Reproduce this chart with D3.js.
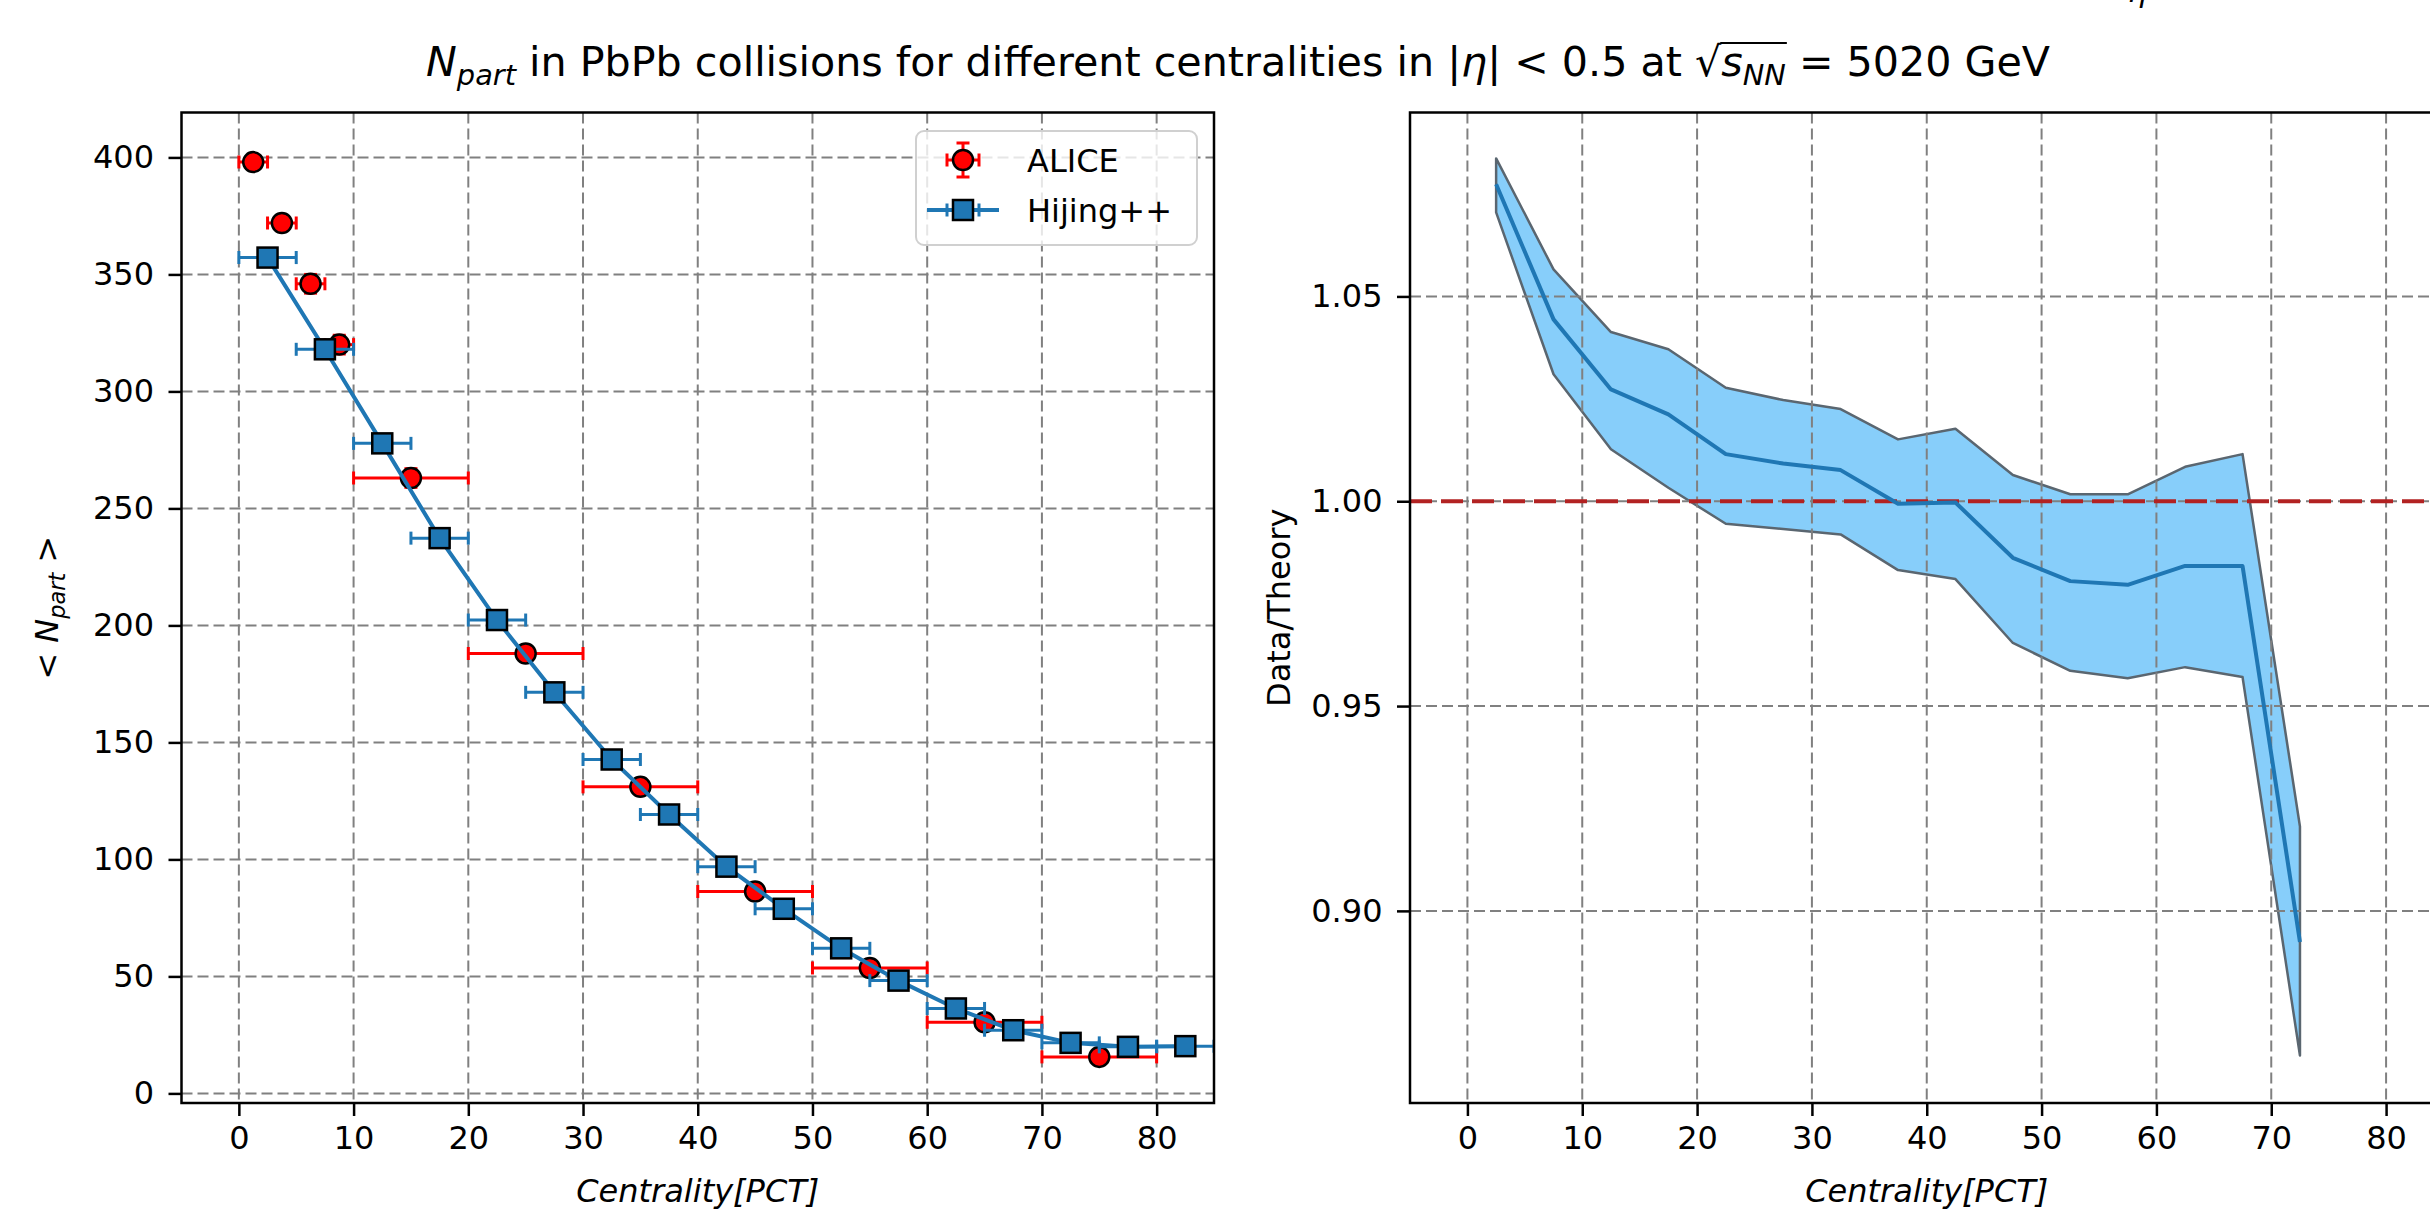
<!DOCTYPE html>
<html><head><meta charset="utf-8">
<script src="https://cdn.jsdelivr.net/npm/d3@7"></script>
<style>
html,body{margin:0;padding:0;background:#fff;}
svg{display:block;}
text{font-family:"DejaVu Sans",sans-serif;white-space:pre;fill:#000;}
</style></head>
<body><svg id="chart" width="2430" height="1224"></svg>
<script>
// ---------------- data ----------------
const aliceCentrality = [1.25, 3.75, 6.25, 8.75, 15, 25, 35, 45, 55, 65, 75];
const aliceCentralityHalfWidth = [1.25, 1.25, 1.25, 1.25, 5, 5, 5, 5, 5, 5, 5];
const aliceNpart = [398, 372, 346, 320, 263, 188, 131, 86.3, 53.6, 30.4, 15.6];
const aliceNpartErr = [2, 3, 4, 4, 4, 3, 2, 1.7, 1.2, 0.8, 0.5];

const hijingCentrality = [2.5, 7.5, 12.5, 17.5, 22.5, 27.5, 32.5, 37.5, 42.5, 47.5, 52.5, 57.5, 62.5, 67.5, 72.5, 77.5, 82.5];
const hijingCentralityHalfWidth = [2.5, 2.5, 2.5, 2.5, 2.5, 2.5, 2.5, 2.5, 2.5, 2.5, 2.5, 2.5, 2.5, 2.5, 2.5, 2.5, 2.5];
const hijingNpart = [357.2, 318.0, 277.8, 237.3, 202.3, 171.4, 142.7, 119.2, 96.9, 78.9, 62.0, 48.2, 36.3, 27.0, 21.6, 19.9, 20.2];

const ratioCentrality = [2.5, 7.5, 12.5, 17.5, 22.5, 27.5, 32.5, 37.5, 42.5, 47.5, 52.5, 57.5, 62.5, 67.5, 72.5];
const ratioCentral = [1.0774, 1.0444, 1.0273, 1.0212, 1.0115, 1.0092, 1.0076, 0.9994, 0.9997, 0.9862, 0.9805, 0.9796, 0.9842, 0.9842, 0.8924];
const ratioUpper   = [1.0837, 1.0566, 1.0413, 1.0371, 1.0277, 1.0247, 1.0225, 1.0151, 1.0177, 1.0064, 1.0017, 1.0017, 1.0084, 1.0115, 0.9206];
const ratioLower   = [1.0705, 1.0310, 1.0127, 1.0033, 0.9945, 0.9932, 0.9919, 0.9832, 0.9810, 0.9654, 0.9586, 0.9568, 0.9595, 0.9571, 0.8647];

const xTicks = [0, 10, 20, 30, 40, 50, 60, 70, 80];
const yTicksNpart = [0, 50, 100, 150, 200, 250, 300, 350, 400];
const yTicksRatio = [0.90, 0.95, 1.00, 1.05];
const yTickLabelsRatio = ["0.90", "0.95", "1.00", "1.05"];
const legendLabels = ["ALICE", "Hijing++"];

// ---------------- layout ----------------
const svg = d3.select("#chart");
const FS = 32;
const C_BLUE = "#1f77b4", C_RED = "#ff0000";

const L = {x0: 181.5, x1: 1214, y0: 112.5, y1: 1103};
const R = {x0: 1410, x1: 2443.5, y0: 112.5, y1: 1103};

const xL = d3.scaleLinear().domain([-5, 85]).range([L.x0, L.x1]);
const yL = d3.scaleLinear().domain([-4.1, 419.2]).range([L.y1, L.y0]);
const xR = d3.scaleLinear().domain([-5, 85]).range([R.x0, R.x1]);
const yR = d3.scaleLinear().domain([0.8531, 1.0949]).range([R.y1, R.y0]);

const defs = svg.append("defs");
defs.append("clipPath").attr("id", "clipL").append("rect")
  .attr("x", L.x0).attr("y", L.y0).attr("width", L.x1 - L.x0).attr("height", L.y1 - L.y0);
defs.append("clipPath").attr("id", "clipR").append("rect")
  .attr("x", R.x0).attr("y", R.y0).attr("width", R.x1 - R.x0).attr("height", R.y1 - R.y0);

// math-text helper
function layoutRuns(parent, runs, size) {
  const g = parent.append("g");
  let x = 0;
  const placed = [];
  runs.forEach(r => {
    const fs = r.sub ? size * 0.7 : size;
    const t = g.append("text")
      .attr("x", x)
      .attr("y", r.sub ? size * 0.22 : 0)
      .style("font-size", fs + "px")
      .style("font-style", r.it ? "italic" : "normal")
      .text(r.t);
    const w = t.node().getComputedTextLength();
    placed.push({x0: x, x1: x + w, r: r});
    x += w;
  });
  return {g: g, width: x, placed: placed};
}

function grid(g, xs, ys, clip, xTickVals, yTickVals, box) {
  const gg = g.append("g").attr("clip-path", clip)
    .attr("stroke", "#808080").attr("stroke-width", 2).attr("stroke-dasharray", "11,5").attr("fill", "none");
  xTickVals.forEach(v => gg.append("line").attr("x1", xs(v)).attr("x2", xs(v)).attr("y1", box.y0).attr("y2", box.y1));
  yTickVals.forEach(v => gg.append("line").attr("y1", ys(v)).attr("y2", ys(v)).attr("x1", box.x0).attr("x2", box.x1));
}

function axes(g, xs, ys, box, yTickVals, yFmt) {
  const ax = g.append("g").attr("transform", `translate(0,${box.y1})`)
    .call(d3.axisBottom(xs).tickValues(xTicks).tickSize(13).tickPadding(10).tickFormat(d3.format("d")));
  const ay = g.append("g").attr("transform", `translate(${box.x0},0)`)
    .call(d3.axisLeft(ys).tickValues(yTickVals).tickSize(13).tickPadding(14.5).tickFormat(yFmt));
  [ax, ay].forEach(a => {
    a.select(".domain").remove();
    a.selectAll(".tick line").attr("stroke", "#000").attr("stroke-width", 2.5);
    a.selectAll(".tick text").style("font-size", FS + "px").style("font-family", "DejaVu Sans").attr("fill", "#000");
  });
  g.append("rect").attr("x", box.x0).attr("y", box.y0).attr("width", box.x1 - box.x0).attr("height", box.y1 - box.y0)
    .attr("fill", "none").attr("stroke", "#000").attr("stroke-width", 2.5);
}

// ---------------- left panel ----------------
const gL = svg.append("g");
grid(gL, xL, yL, "url(#clipL)", xTicks, yTicksNpart, L);

const dataL = gL.append("g").attr("clip-path", "url(#clipL)");
// ALICE error bars
const capH = 6.5;
const aliceG = dataL.append("g").attr("stroke", C_RED).attr("stroke-width", 3).attr("fill", "none");
aliceCentrality.forEach((c, i) => {
  const xa = xL(c - aliceCentralityHalfWidth[i]), xb = xL(c + aliceCentralityHalfWidth[i]);
  const y = yL(aliceNpart[i]);
  const ya = yL(aliceNpart[i] - aliceNpartErr[i]), yb = yL(aliceNpart[i] + aliceNpartErr[i]);
  aliceG.append("line").attr("x1", xa).attr("x2", xb).attr("y1", y).attr("y2", y);
  aliceG.append("line").attr("x1", xa).attr("x2", xa).attr("y1", y - capH).attr("y2", y + capH);
  aliceG.append("line").attr("x1", xb).attr("x2", xb).attr("y1", y - capH).attr("y2", y + capH);
  aliceG.append("line").attr("x1", xL(c)).attr("x2", xL(c)).attr("y1", ya).attr("y2", yb);
  aliceG.append("line").attr("x1", xL(c) - capH).attr("x2", xL(c) + capH).attr("y1", ya).attr("y2", ya);
  aliceG.append("line").attr("x1", xL(c) - capH).attr("x2", xL(c) + capH).attr("y1", yb).attr("y2", yb);
});
dataL.append("g").selectAll("circle").data(aliceCentrality).join("circle")
  .attr("cx", d => xL(d)).attr("cy", (d, i) => yL(aliceNpart[i])).attr("r", 10)
  .attr("fill", C_RED).attr("stroke", "#000").attr("stroke-width", 2.5);

// Hijing++
const hijLine = d3.line().x(d => xL(d[0])).y(d => yL(d[1]));
dataL.append("path").datum(hijingCentrality.map((c, i) => [c, hijingNpart[i]]))
  .attr("d", hijLine).attr("fill", "none").attr("stroke", C_BLUE).attr("stroke-width", 4);
const hijG = dataL.append("g").attr("stroke", C_BLUE).attr("stroke-width", 3).attr("fill", "none");
hijingCentrality.forEach((c, i) => {
  const xa = xL(c - hijingCentralityHalfWidth[i]), xb = xL(c + hijingCentralityHalfWidth[i]);
  const y = yL(hijingNpart[i]);
  hijG.append("line").attr("x1", xa).attr("x2", xb).attr("y1", y).attr("y2", y);
  hijG.append("line").attr("x1", xa).attr("x2", xa).attr("y1", y - capH).attr("y2", y + capH);
  hijG.append("line").attr("x1", xb).attr("x2", xb).attr("y1", y - capH).attr("y2", y + capH);
});
const sq = 20;
dataL.append("g").selectAll("rect").data(hijingCentrality).join("rect")
  .attr("x", d => xL(d) - sq / 2).attr("y", (d, i) => yL(hijingNpart[i]) - sq / 2)
  .attr("width", sq).attr("height", sq)
  .attr("fill", C_BLUE).attr("stroke", "#000").attr("stroke-width", 2.5);

axes(gL, xL, yL, L, yTicksNpart, d3.format("d"));

// legend
const lg = gL.append("g");
lg.append("rect").attr("x", 916).attr("y", 131).attr("width", 281).attr("height", 114).attr("rx", 8)
  .attr("fill", "#fff").attr("fill-opacity", 0.8).attr("stroke", "#d0d0d0").attr("stroke-width", 2);
{
  const cx = 963, cy = 160;
  const eg = lg.append("g").attr("stroke", C_RED).attr("stroke-width", 3);
  eg.append("line").attr("x1", cx).attr("x2", cx).attr("y1", cy - 17).attr("y2", cy + 17);
  eg.append("line").attr("x1", cx - capH).attr("x2", cx + capH).attr("y1", cy - 17).attr("y2", cy - 17);
  eg.append("line").attr("x1", cx - capH).attr("x2", cx + capH).attr("y1", cy + 17).attr("y2", cy + 17);
  eg.append("line").attr("x1", cx - 16).attr("x2", cx + 16).attr("y1", cy).attr("y2", cy);
  eg.append("line").attr("x1", cx - 16).attr("x2", cx - 16).attr("y1", cy - capH).attr("y2", cy + capH);
  eg.append("line").attr("x1", cx + 16).attr("x2", cx + 16).attr("y1", cy - capH).attr("y2", cy + capH);
  lg.append("circle").attr("cx", cx).attr("cy", cy).attr("r", 10).attr("fill", C_RED).attr("stroke", "#000").attr("stroke-width", 2.5);
  lg.append("text").attr("x", 1027).attr("y", cy + 11.6).style("font-size", FS + "px").text(legendLabels[0]);
}
{
  const cx = 963, cy = 210;
  const eg = lg.append("g").attr("stroke", C_BLUE);
  eg.append("line").attr("x1", 927).attr("x2", 999).attr("y1", cy).attr("y2", cy).attr("stroke-width", 4);
  eg.append("line").attr("x1", cx - 16).attr("x2", cx - 16).attr("y1", cy - capH).attr("y2", cy + capH).attr("stroke-width", 3);
  eg.append("line").attr("x1", cx + 16).attr("x2", cx + 16).attr("y1", cy - capH).attr("y2", cy + capH).attr("stroke-width", 3);
  lg.append("rect").attr("x", cx - sq / 2).attr("y", cy - sq / 2).attr("width", sq).attr("height", sq)
    .attr("fill", C_BLUE).attr("stroke", "#000").attr("stroke-width", 2.5);
  lg.append("text").attr("x", 1027).attr("y", cy + 11.6).style("font-size", FS + "px").text(legendLabels[1]);
}

// ---------------- right panel ----------------
const gR = svg.append("g");
const dataR = gR.append("g").attr("clip-path", "url(#clipR)");
const band = d3.area().x(d => xR(d[0])).y0(d => yR(d[1])).y1(d => yR(d[2]));
const bandData = ratioCentrality.map((c, i) => [c, ratioLower[i], ratioUpper[i]]);
dataR.append("path").datum(bandData).attr("d", band)
  .attr("fill", "#87cefa").attr("stroke", "#5a6670").attr("stroke-width", 2.5).attr("stroke-linejoin", "round");
grid(gR, xR, yR, "url(#clipR)", xTicks, yTicksRatio, R);
const dataR2 = gR.append("g").attr("clip-path", "url(#clipR)");
dataR2.append("line").attr("x1", R.x0).attr("x2", R.x1).attr("y1", yR(1)).attr("y2", yR(1))
  .attr("stroke", "#b22222").attr("stroke-width", 4).attr("stroke-dasharray", "22,9");
dataR2.append("path").datum(ratioCentrality.map((c, i) => [c, ratioCentral[i]]))
  .attr("d", d3.line().x(d => xR(d[0])).y(d => yR(d[1])))
  .attr("fill", "none").attr("stroke", C_BLUE).attr("stroke-width", 4).attr("stroke-linejoin", "round");
axes(gR, xR, yR, R, yTicksRatio, (d, i) => yTickLabelsRatio[yTicksRatio.indexOf(d)]);

// ---------------- labels ----------------
function centeredRuns(runs, cx, baseline, size, rotate) {
  const outer = svg.append("g").attr("transform", `translate(${cx},${baseline})` + (rotate ? ` rotate(${rotate})` : ""));
  const res = layoutRuns(outer, runs, size);
  res.g.attr("transform", `translate(${-res.width / 2},0)`);
  return res;
}
// x labels
centeredRuns([{t: "Centrality[PCT]", it: true}], (L.x0 + L.x1) / 2, 1202, FS);
centeredRuns([{t: "Centrality[PCT]", it: true}], (R.x0 + R.x1) / 2, 1202, FS);
// y labels
centeredRuns([{t: "<"}, {t: " "}, {t: "N", it: true}, {t: "part", it: true, sub: true}, {t: " "}, {t: ">"}], 58, (L.y0 + L.y1) / 2, FS, -90);
centeredRuns([{t: "Data/Theory"}], 1290, (R.y0 + R.y1) / 2, FS, -90);

// title
const titleRuns = [
  {t: "N", it: true}, {t: "part", it: true, sub: true},
  {t: " in PbPb collisions for different centralities in "},
  {t: "|"}, {t: "η", it: true}, {t: "|"}, {t: " < 0.5"}, {t: " at "},
  {t: "√", rad: true}, {t: "s", it: true, ov: true}, {t: "NN", it: true, sub: true, ov: true},
  {t: " = 5020"}, {t: " GeV"}
];
let tsize = 38.4;
let probe = layoutRuns(svg, titleRuns, tsize);
const targetW = 1624;
const fit = probe.width;
probe.g.remove();
tsize = Math.max(34, Math.min(42, tsize * targetW / fit));
const title = centeredRuns(titleRuns, 1238, 76, tsize);
{
  const rad = title.placed.find(p => p.r.rad);
  const ovs = title.placed.filter(p => p.r.ov);
  const xEnd = d3.max(ovs, p => p.x1);
  title.g.append("line").attr("x1", rad.x1 - 1).attr("x2", xEnd + 1)
    .attr("y1", -tsize * 0.8).attr("y2", -tsize * 0.8)
    .attr("stroke", "#000").attr("stroke-width", 2);
}
// fragment of cut-off text at the top edge
svg.append("text").attr("x", 2128).attr("y", 2).style("font-size", "30px").style("font-style", "italic").text("η");
</script>
</body></html>
